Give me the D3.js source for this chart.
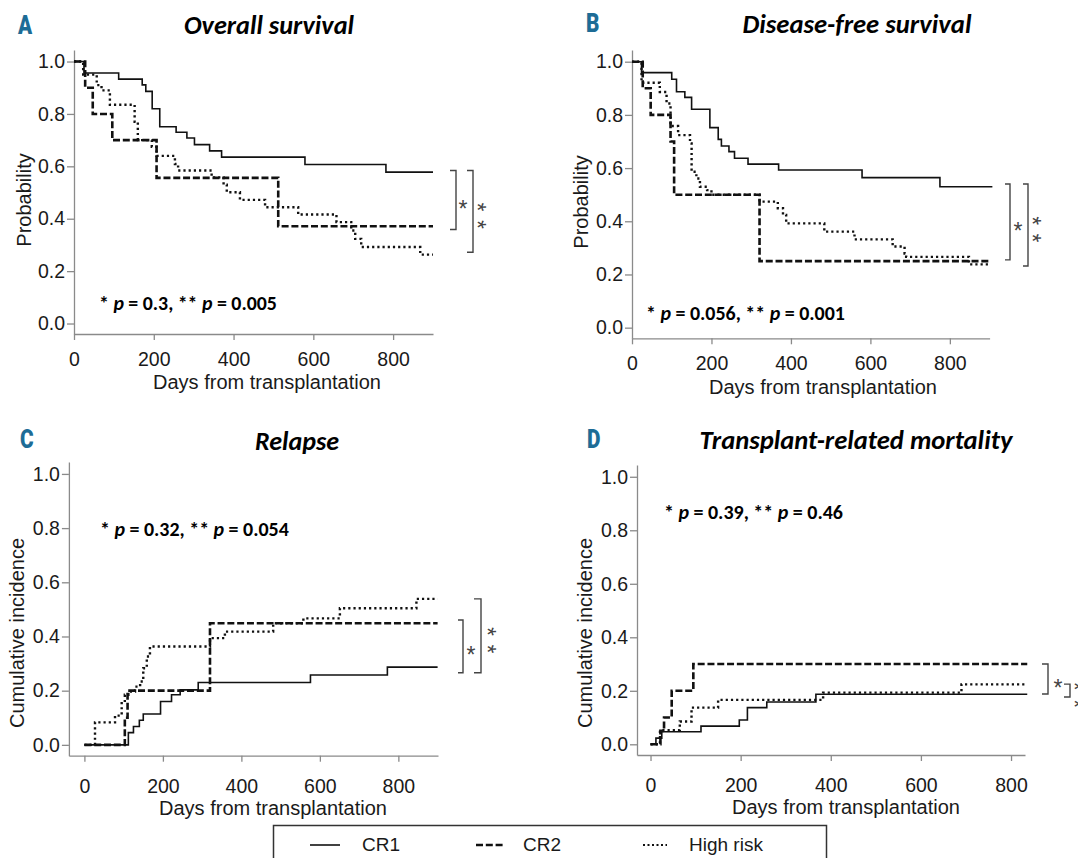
<!DOCTYPE html>
<html>
<head>
<meta charset="utf-8">
<script src="https://cdn.jsdelivr.net/npm/d3@7"></script>
<style>
  body { margin: 0; background: #fff; }
  svg { display: block; }
</style>
</head>
<body>
<div id="chart"></div>
<script>
//groups and ticks
var groups = ['CR1', 'CR2', 'High risk'];
var xTicks = [0, 200, 400, 600, 800];
var yTicks = [0, 0.2, 0.4, 0.6, 0.8, 1.0];

//A: overall survival, [day, value from that day on]
var osCR1 = [[0,1],[25,0.956],[112,0.933],[171,0.911],[180,0.886],[196,0.82],[215,0.751],[256,0.73],[283,0.708],[302,0.683],[340,0.659],[370,0.635],[579,0.607],[782,0.578],[900,0.578]];
var osCR2 = [[0,1],[28,0.9],[47,0.8],[96,0.7],[207,0.556],[512,0.371],[900,0.371]];
var osHR = [[0,1],[23,0.95],[57,0.91],[69,0.89],[90,0.835],[152,0.77],[160,0.70],[195,0.675],[207,0.64],[253,0.609],[261,0.584],[345,0.558],[375,0.53],[383,0.501],[416,0.472],[479,0.444],[562,0.416],[658,0.387],[695,0.355],[705,0.323],[720,0.292],[868,0.263],[900,0.263]];

//B: disease-free survival
var dfsCR1 = [[0,1],[24,0.959],[100,0.934],[112,0.887],[133,0.866],[150,0.821],[196,0.752],[217,0.708],[225,0.683],[244,0.662],[258,0.637],[292,0.615],[369,0.593],[579,0.564],[775,0.53],[907,0.53]];
var dfsCR2 = [[0,1],[27,0.9],[47,0.8],[97,0.7],[106,0.5],[321,0.25],[903,0.25]];
var dfsHR = [[0,1],[24,0.921],[70,0.886],[87,0.843],[97,0.758],[116,0.724],[146,0.693],[150,0.586],[162,0.561],[171,0.53],[189,0.517],[200,0.5],[321,0.474],[367,0.449],[380,0.424],[388,0.392],[484,0.361],[560,0.332],[656,0.305],[686,0.279],[690,0.266],[848,0.238],[903,0.238]];

//C: relapse
var relCR1 = [[0,0],[112,0.045],[125,0.068],[140,0.091],[150,0.114],[194,0.16],[222,0.185],[244,0.203],[290,0.23],[576,0.258],[772,0.287],[900,0.287]];
var relCR2 = [[0,0],[103,0.1],[110,0.2],[320,0.449],[900,0.449]];
var relHR = [[0,0],[27,0.083],[78,0.108],[95,0.154],[103,0.185],[112,0.197],[129,0.215],[142,0.234],[150,0.283],[159,0.326],[167,0.363],[320,0.394],[358,0.418],[481,0.449],[558,0.467],[651,0.504],[846,0.539],[900,0.539]];

//D: transplant-related mortality
var trmCR1 = [[0,0],[12,0.023],[25,0.047],[112,0.068],[197,0.091],[215,0.137],[258,0.158],[367,0.187],[836,0.187]];
var trmCR2 = [[0,0],[22,0.05],[30,0.1],[47,0.2],[95,0.3],[836,0.3]];
var trmHR = [[0,0],[21,0.053],[65,0.085],[91,0.137],[150,0.166],[383,0.193],[690,0.224],[836,0.224]];

//texts
var letters = ['A', 'B', 'C', 'D'];
var titles = ['Overall survival', 'Disease-free survival', 'Relapse', 'Transplant-related mortality'];
var yLabels = ['Probability', 'Probability', 'Cumulative incidence', 'Cumulative incidence'];
var xLabel = 'Days from transplantation';
var pValues = [['0.3', '0.005'], ['0.056', '0.001'], ['0.32', '0.054'], ['0.39', '0.46']];

//comparison brackets, [top value, bottom value]: * then **
var osBrackets = [[0.584, 0.359], [0.584, 0.272]];
var dfsBrackets = [[0.54, 0.255], [0.54, 0.232]];
var relBrackets = [[0.461, 0.266], [0.539, 0.266]];
var trmBrackets = [[0.30, 0.188], [0.225, 0.177]];

var series = [[osCR1, osCR2, osHR], [dfsCR1, dfsCR2, dfsHR], [relCR1, relCR2, relHR], [trmCR1, trmCR2, trmHR]];
var brackets = [osBrackets, dfsBrackets, relBrackets, trmBrackets];

//layout of the four panels (pixels)
var layout = [
  {xDom:[0,900], xr:[74,433], yr:[334,50], xPad:12, letter:[18,25], title:[269,25], tW:170, yLab:[24,200], xLab:[267,382], p:[99,303], pW:178, br:[[456,6,463],[473,6,482]]},
  {xDom:[0,900], xr:[632,989.6], yr:[338.3,50], xPad:12, letter:[586,23], title:[857,23], tW:229, yLab:[581,202], xLab:[823,387], p:[646,313], pW:199, br:[[1010,5,1018],[1028,5,1037]]},
  {xDom:[-39.5,901], xr:[68.9,438], yr:[755.7,462], xPad:17, letter:[20,439], title:[297,441], tW:84, yLab:[17,633], xLab:[273,808], p:[100,529], pW:189, br:[[463,5,471],[481,7,492]]},
  {xDom:[-30,831], xr:[637,1025], yr:[755,465], xPad:17, letter:[587,439], title:[856,439], tW:313, yLab:[585,633], xLab:[846,807], p:[664,512], pW:179, br:[[1048,6,1058],[1070,6,1079]]}
];

var lineStyles = [
  {w: 1.6, dash: null},
  {w: 2.6, dash: '7,2.8'},
  {w: 2.4, dash: '2.2,3'}
];

var sans = '"Liberation Sans", Arial, sans-serif';
var calib = 'Carlito, Lato, "Open Sans", sans-serif';

var svg = d3.select('#chart').append('svg')
  .attr('width', 1078)
  .attr('height', 858);

//squeeze a text to the given width if it runs wider
function fitWidth(sel, w) {
  var len = sel.node().getComputedTextLength();
  if (len > w) {
    sel.attr('textLength', w).attr('lengthAdjust', 'spacingAndGlyphs');
  } else {
    var fs = parseFloat(sel.attr('font-size'));
    sel.attr('font-size', fs * w / len);
  }
}

layout.forEach(function(L, i) {
  var g = svg.append('g');
  var x = d3.scaleLinear().domain(L.xDom).range(L.xr);
  var y = d3.scaleLinear().domain([-0.04, 1.044]).range(L.yr);

  //axes
  var xa = g.append('g')
    .attr('transform', 'translate(0,' + L.yr[0] + ')')
    .call(d3.axisBottom(x).tickValues(xTicks).tickSize(6).tickSizeOuter(0).tickPadding(L.xPad));
  var ya = g.append('g')
    .attr('transform', 'translate(' + L.xr[0] + ',0)')
    .call(d3.axisLeft(y).tickValues(yTicks).tickSize(7).tickSizeOuter(0).tickPadding(2).tickFormat(d3.format('.1f')));
  [xa, ya].forEach(function(a) {
    a.select('.domain').attr('stroke', '#8a8a8a').attr('stroke-width', 1.3);
    a.selectAll('.tick line').attr('stroke', '#8a8a8a').attr('stroke-width', 1.3);
    a.selectAll('.tick text').attr('font-family', sans).attr('font-size', 19.5).attr('fill', '#1a1a1a');
  });

  //curves
  var line = d3.line()
    .x(d => x(d[0]))
    .y(d => y(d[1]))
    .curve(d3.curveStepAfter);
  [0, 2, 1].forEach(function(k) {
    g.append('path')
      .attr('d', line(series[i][k]))
      .attr('fill', 'none')
      .attr('stroke', '#111')
      .attr('stroke-width', lineStyles[k].w)
      .attr('stroke-dasharray', lineStyles[k].dash);
  });

  //brackets
  brackets[i].forEach(function(b, j) {
    var bx = L.br[j][0], arm = L.br[j][1], lx = L.br[j][2];
    var y1 = y(b[0]), y2 = y(b[1]), mid = (y1 + y2) / 2;
    g.append('path')
      .attr('d', 'M' + (bx - arm) + ',' + y1 + 'H' + bx + 'V' + y2 + 'H' + (bx - arm))
      .attr('fill', 'none')
      .attr('stroke', '#444')
      .attr('stroke-width', 1.4);
    if (j === 0) {
      g.append('text')
        .attr('x', lx)
        .attr('y', mid + 4 + 13)
        .attr('text-anchor', 'middle')
        .attr('font-family', sans)
        .attr('font-size', 23)
        .attr('fill', '#444')
        .text('*');
    } else {
      //two stars stacked, written down the page
      g.append('text')
        .attr('transform', 'translate(' + lx + ',' + (mid + 4) + ') rotate(90)')
        .attr('text-anchor', 'middle')
        .attr('y', 13)
        .attr('dx', 4.6)
        .attr('letter-spacing', 8.5)
        .attr('font-family', sans)
        .attr('font-size', 23)
        .attr('fill', '#444')
        .text('**');
    }
  });

  //axis labels
  g.append('text')
    .attr('x', L.xLab[0])
    .attr('y', L.xLab[1])
    .attr('dy', '0.35em')
    .attr('text-anchor', 'middle')
    .attr('font-family', sans)
    .attr('font-size', 20)
    .attr('fill', '#1a1a1a')
    .text(xLabel);
  g.append('text')
    .attr('transform', 'translate(' + L.yLab[0] + ',' + L.yLab[1] + ') rotate(-90)')
    .attr('dy', '0.35em')
    .attr('text-anchor', 'middle')
    .attr('font-family', sans)
    .attr('font-size', 20)
    .attr('fill', '#1a1a1a')
    .text(yLabels[i]);

  //title and panel letter
  var t = g.append('text')
    .attr('x', L.title[0])
    .attr('y', L.title[1])
    .attr('dy', '0.36em')
    .attr('text-anchor', 'middle')
    .attr('font-family', calib)
    .attr('font-weight', 'bold')
    .attr('font-style', 'italic')
    .attr('font-size', 25)
    .attr('fill', '#000')
    .text(titles[i]);
  fitWidth(t, L.tW);

  g.append('text')
    .attr('transform', 'translate(' + L.letter[0] + ',' + (L.letter[1] + 9) + ') scale(0.8,1)')
    .attr('font-family', 'Roboto, sans-serif')
    .attr('font-weight', 900)
    .attr('font-size', 26)
    .attr('fill', '#1d6c96')
    .text(letters[i]);

  //p values
  var p = g.append('text')
    .attr('x', L.p[0])
    .attr('y', L.p[1])
    .attr('dy', '0.36em')
    .attr('font-family', calib)
    .attr('font-weight', 'bold')
    .attr('font-size', 19)
    .attr('fill', '#000');
  p.append('tspan').text('* ');
  p.append('tspan').attr('font-style', 'italic').text('p');
  p.append('tspan').text(' = ' + pValues[i][0] + ', ** ');
  p.append('tspan').attr('font-style', 'italic').text('p');
  p.append('tspan').text(' = ' + pValues[i][1]);
  fitWidth(p, L.pW);
});

//legend
var legendLines = [[310, 340], [476, 504], [643, 667]];
var legendText = [362, 523, 689];
var lg = svg.append('g');
lg.append('rect')
  .attr('x', 273.5)
  .attr('y', 825.5)
  .attr('width', 553)
  .attr('height', 50)
  .attr('fill', 'none')
  .attr('stroke', '#333')
  .attr('stroke-width', 1.5);
groups.forEach(function(name, k) {
  lg.append('line')
    .attr('x1', legendLines[k][0])
    .attr('x2', legendLines[k][1])
    .attr('y1', 845)
    .attr('y2', 845)
    .attr('stroke', '#111')
    .attr('stroke-width', k === 2 ? 1.8 : lineStyles[k].w)
    .attr('stroke-dasharray', k === 2 ? '2,2.5' : lineStyles[k].dash);
  lg.append('text')
    .attr('x', legendText[k])
    .attr('y', 851)
    .attr('font-family', sans)
    .attr('font-size', 19)
    .attr('fill', '#1a1a1a')
    .text(name);
});
</script>
</body>
</html>
